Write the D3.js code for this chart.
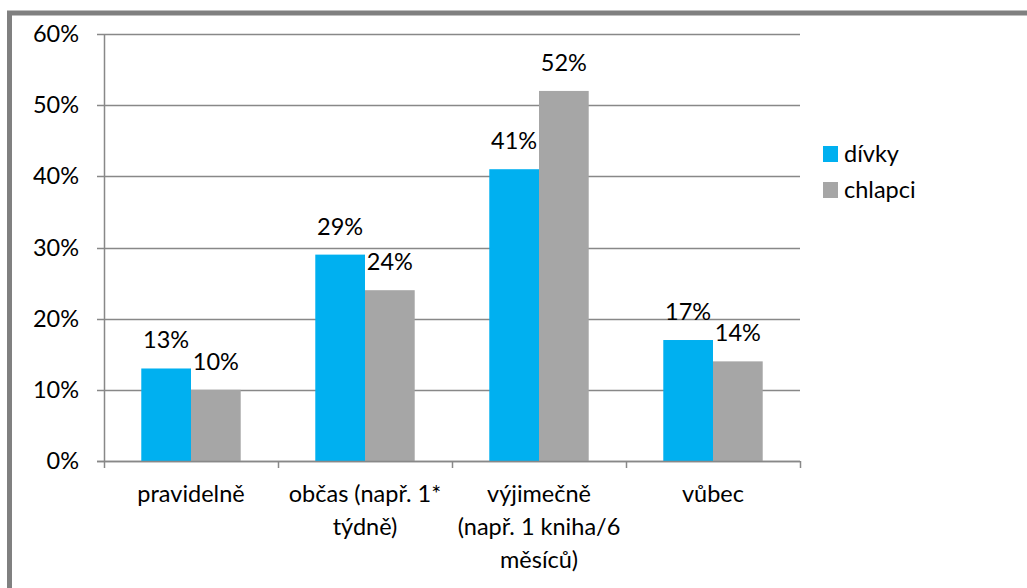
<!DOCTYPE html>
<html><head><meta charset="utf-8">
<script src="https://cdn.jsdelivr.net/npm/d3@7"></script>
<style>body{margin:0;background:#fff;} text{font-family:Lato,"Open Sans",sans-serif;fill:#000;}</style>
</head><body>
<svg id="c" width="1027" height="588"></svg>
<script>
const categories = ["pravidelně", "občas (např. 1* týdně)", "výjimečně (např. 1 kniha/6 měsíců)", "vůbec"];
const categoryLines = [["pravidelně"], ["občas (např. 1*", "týdně)"], ["výjimečně", "(např. 1 kniha/6", "měsíců)"], ["vůbec"]];
const seriesNames = ["dívky", "chlapci"];
const divky = [13, 29, 41, 17];
const chlapci = [10, 24, 52, 14];
const yTicks = [0, 10, 20, 30, 40, 50, 60];
const colors = ["#00B0F0", "#A6A6A6"];

const svg = d3.select("#c");
const fs = 23.5;
// frame
svg.append("path").attr("d", "M9.5,588 V13 H1027").attr("fill", "none").attr("stroke", "#808080").attr("stroke-width", 5);

const x = d3.scaleBand().domain(categories).range([104, 800]);
const y = d3.scaleLinear().domain([0, 60]).range([461, 34]);
const inner = d3.scaleBand().domain(seriesNames).range([0, x.bandwidth()]).paddingInner(0).paddingOuter(0.75);

// gridlines
svg.append("g").selectAll("line").data(yTicks).join("line")
  .attr("x1", 97).attr("x2", 800).attr("y1", d => Math.round(y(d)) + 0.5).attr("y2", d => Math.round(y(d)) + 0.5)
  .attr("stroke", "#888").attr("stroke-width", 1.5);
// y labels
svg.append("g").selectAll("text").data(yTicks).join("text")
  .attr("x", 79).attr("y", d => y(d) + 8).attr("text-anchor", "end").attr("font-size", fs)
  .text(d => d + "%");
// y axis line
svg.append("line").attr("x1", 104.5).attr("x2", 104.5).attr("y1", 34).attr("y2", 461).attr("stroke", "#888").attr("stroke-width", 1.5);
// x ticks
const xt = categories.map(c => x(c)).concat([800]);
svg.append("g").selectAll("line").data(xt).join("line")
  .attr("x1", d => Math.round(d) + 0.5).attr("x2", d => Math.round(d) + 0.5).attr("y1", 461).attr("y2", 468)
  .attr("stroke", "#888").attr("stroke-width", 1.5);

const series = [divky, chlapci];
series.forEach((vals, si) => {
  const g = svg.append("g");
  g.selectAll("rect").data(vals).join("rect")
    .attr("x", (d, i) => x(categories[i]) + inner(seriesNames[si]))
    .attr("width", inner.bandwidth())
    .attr("y", d => y(d)).attr("height", d => y(0) - y(d))
    .attr("fill", colors[si]);
  g.selectAll("text").data(vals).join("text")
    .attr("x", (d, i) => x(categories[i]) + inner(seriesNames[si]) + inner.bandwidth() / 2)
    .attr("y", d => y(d) - 20).attr("text-anchor", "middle").attr("font-size", fs)
    .text(d => d + "%");
});
// redraw axis baseline over bars
svg.append("line").attr("x1", 97).attr("x2", 800).attr("y1", 461.5).attr("y2", 461.5).attr("stroke", "#888").attr("stroke-width", 1.5);

// category labels
categories.forEach((c, i) => {
  const t = svg.append("text").attr("text-anchor", "middle").attr("font-size", fs)
    .attr("x", x(c) + x.bandwidth() / 2).attr("y", 502);
  categoryLines[i].forEach((l, j) => t.append("tspan").attr("x", x(c) + x.bandwidth() / 2).attr("dy", j ? 33 : 0).text(l));
});

// legend
seriesNames.forEach((s, i) => {
  svg.append("rect").attr("x", 823).attr("y", 146 + i * 36).attr("width", 15).attr("height", 16).attr("fill", colors[i]);
  svg.append("text").attr("x", 844).attr("y", 162 + i * 36).attr("font-size", fs).text(s);
});
</script>
</body></html>
